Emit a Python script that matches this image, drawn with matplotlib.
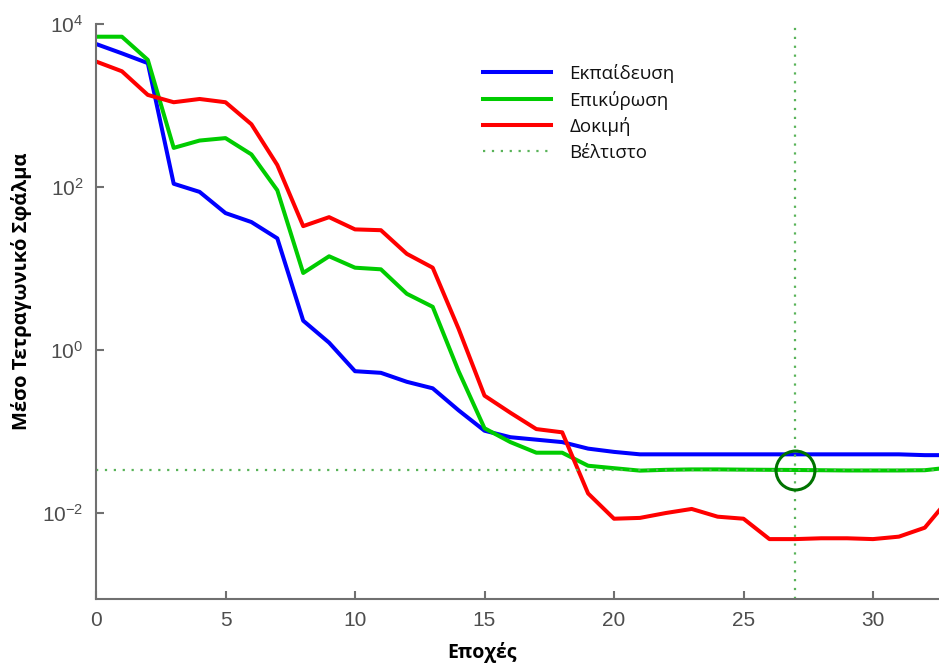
import numpy as np
import matplotlib.pyplot as plt

# epochs and log10 of the mean squared error
epochs = list(range(0, 34))
train_log = [3.755, 3.64, 3.52, 2.04, 1.94, 1.68, 1.57, 1.37, 0.36, 0.09,
             -0.26, -0.28, -0.39, -0.47, -0.74, -0.99, -1.07, -1.10, -1.13, -1.21,
             -1.25, -1.28, -1.28, -1.28, -1.28, -1.28, -1.28, -1.28, -1.28, -1.28,
             -1.28, -1.28, -1.29, -1.29]
valid_log = [3.844, 3.844, 3.56, 2.48, 2.57, 2.60, 2.40, 1.96, 0.945, 1.15,
             1.01, 0.99, 0.69, 0.53, -0.26, -0.96, -1.13, -1.26, -1.26, -1.42,
             -1.45, -1.48, -1.47, -1.465, -1.465, -1.468, -1.47, -1.472, -1.475, -1.478,
             -1.478, -1.478, -1.475, -1.44]
test_log = [3.54, 3.42, 3.13, 3.04, 3.08, 3.04, 2.77, 2.27, 1.52, 1.63,
            1.48, 1.47, 1.18, 1.01, 0.26, -0.56, -0.77, -0.97, -1.01, -1.76,
            -2.07, -2.06, -2.0, -1.95, -2.045, -2.07, -2.32, -2.32, -2.31, -2.31,
            -2.32, -2.29, -2.18, -1.80]
best_epoch = 27
best_log = -1.472

labels = ["Εκπαίδευση", "Επικύρωση", "Δοκιμή", "Βέλτιστο"]

train = [10 ** v for v in train_log]
valid = [10 ** v for v in valid_log]
test = [10 ** v for v in test_log]
best = 10 ** best_log

plt.rcParams['font.family'] = ['Liberation Sans', 'DejaVu Sans']
plt.rcParams['mathtext.fontset'] = 'custom'
plt.rcParams['mathtext.rm'] = 'Liberation Sans'
plt.rcParams['mathtext.it'] = 'Liberation Sans:italic'
plt.rcParams['mathtext.default'] = 'regular'

fig = plt.figure(figsize=(9.39, 6.71), dpi=100)
ax = fig.add_axes([96/939, 72/671, 843/939, (599-24)/671])

lw = 2.9
l1, = ax.plot(epochs, train, color=(0, 0, 1), lw=lw)
l2, = ax.plot(epochs, valid, color=(0, 0.8, 0), lw=lw)
l3, = ax.plot(epochs, test, color=(1, 0, 0), lw=lw)
dotc = (0.35, 0.7, 0.35)
l4, = ax.plot([0, 40], [best, best], color=dotc, lw=1.6, ls=(0, (1, 3)))
ax.axvline(best_epoch, color=dotc, lw=1.6, ls=(0, (1, 3)))
ax.plot([best_epoch], [best], 'o', mfc='none', mec=(0, 0.45, 0), ms=28, mew=2.2)

ax.set_yscale('log')
ax.set_xlim(0, 843/25.9)
ax.set_ylim(10 ** -3.055, 1e4)
ax.set_xticks([0, 5, 10, 15, 20, 25, 30])
ax.set_yticks([1e-2, 1e0, 1e2, 1e4])
ax.set_yticklabels(['$10^{-2}$', '$10^{0}$', '$10^{2}$', '$10^{4}$'])
ax.yaxis.set_minor_locator(plt.NullLocator())

for s in ['top', 'right']:
    ax.spines[s].set_visible(False)
for s in ['left', 'bottom']:
    ax.spines[s].set_color('#707070')
    ax.spines[s].set_linewidth(1.5)
ax.tick_params(direction='in', length=6, width=1.5, color='#707070',
               labelcolor='#4d4d4d', labelsize=15, pad=9)

ax.set_xlabel("Εποχές", fontsize=14, fontweight='bold', family=['Open Sans', 'DejaVu Sans'])
ax.set_ylabel("Μέσο Τετραγωνικό Σφάλμα", fontsize=14.5, fontweight='bold',
              family=['Open Sans', 'DejaVu Sans'])
ax.xaxis.set_label_coords(0.458, -0.075)
ax.yaxis.set_label_coords(-0.076, 0.535)

leg = fig.legend([l1, l2, l3, l4], labels, loc='upper left',
                 bbox_to_anchor=(483/939, 1 - 64/671), frameon=False,
                 prop={'family': ['Open Sans', 'DejaVu Sans'], 'size': 13.5},
                 handlelength=3.6, handletextpad=1.0, labelspacing=0.4,
                 borderpad=0, borderaxespad=0)
for t in leg.get_texts():
    t.set_color('#111111')

fig.savefig("out.png", dpi=100)
